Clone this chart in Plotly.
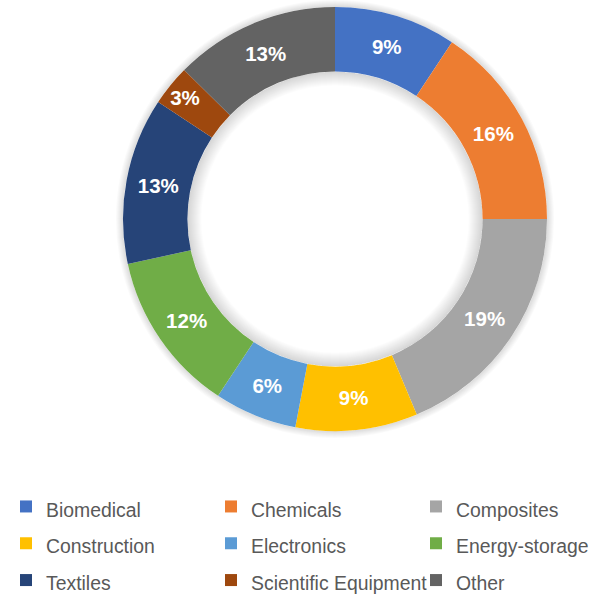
import plotly.graph_objects as go

categories = ["Biomedical", "Chemicals", "Composites", "Construction", "Electronics",
              "Energy-storage", "Textiles", "Scientific Equipment", "Other"]
shares = [9.3, 15.7, 18.7, 9.3, 6.3, 12.3, 12.7, 3.1, 12.6]
colors = ["#4472C4", "#ED7D31", "#A5A5A5", "#FFC000", "#5B9BD5",
          "#70AD47", "#264478", "#9E480E", "#636363"]

W, H = 612, 596
cx, cy, R = 335, 219, 212
HOLE = 0.696
FONT = "Liberation Sans, Arial, sans-serif"


def dom(r):
    return dict(x=[(cx - r) / W, (cx + r) / W], y=[1 - (cy + r) / H, 1 - (cy - r) / H])


fig = go.Figure()

# soft drop-shadow around the ring (outer) and inside the hole (inner)
r_in = R * HOLE
for k in range(7, 0, -1):
    fig.add_trace(go.Pie(
        labels=["shadow-out-%d" % k], values=[1], hole=R / (R + k),
        marker=dict(colors=["rgba(0,0,0,0.02)"], line=dict(width=0)),
        textinfo="none", hoverinfo="skip", showlegend=False, sort=False,
        domain=dom(R + k),
    ))
for k in range(14, 0, -1):
    fig.add_trace(go.Pie(
        labels=["shadow-in-%d" % k], values=[1], hole=(r_in - k) / r_in,
        marker=dict(colors=["rgba(0,0,0,0.011)"], line=dict(width=0)),
        textinfo="none", hoverinfo="skip", showlegend=False, sort=False,
        domain=dom(r_in),
    ))

legend_labels = ['<span style="font-size:19.4px">%s</span>' % c for c in categories]

fig.add_trace(go.Pie(
    labels=legend_labels,
    values=shares,
    hole=HOLE,
    sort=False,
    direction="clockwise",
    rotation=0,
    marker=dict(colors=colors, line=dict(width=0)),
    texttemplate="%{percent:.0%}",
    textposition="inside",
    insidetextorientation="horizontal",
    textfont=dict(family=FONT, size=20.5, color="white", weight="bold"),
    domain=dom(R),
    hovertemplate="%{customdata}: %{percent}<extra></extra>",
    customdata=categories,
))

fig.update_layout(
    width=W, height=H,
    margin=dict(l=0, r=0, t=0, b=0, autoexpand=False),
    paper_bgcolor="white",
    plot_bgcolor="white",
    font=dict(family=FONT, color="#595959"),
    legend=dict(
        orientation="h",
        x=6 / W, xanchor="left",
        y=0.1895, yanchor="top",
        entrywidth=160, entrywidthmode="pixels",
        font=dict(size=26, color="#595959", family=FONT),
        traceorder="normal",
        bgcolor="rgba(0,0,0,0)",
    ),
)

fig.write_html("out.html", config={"displayModeBar": False},
               post_script="document.body.style.margin='0px';")
